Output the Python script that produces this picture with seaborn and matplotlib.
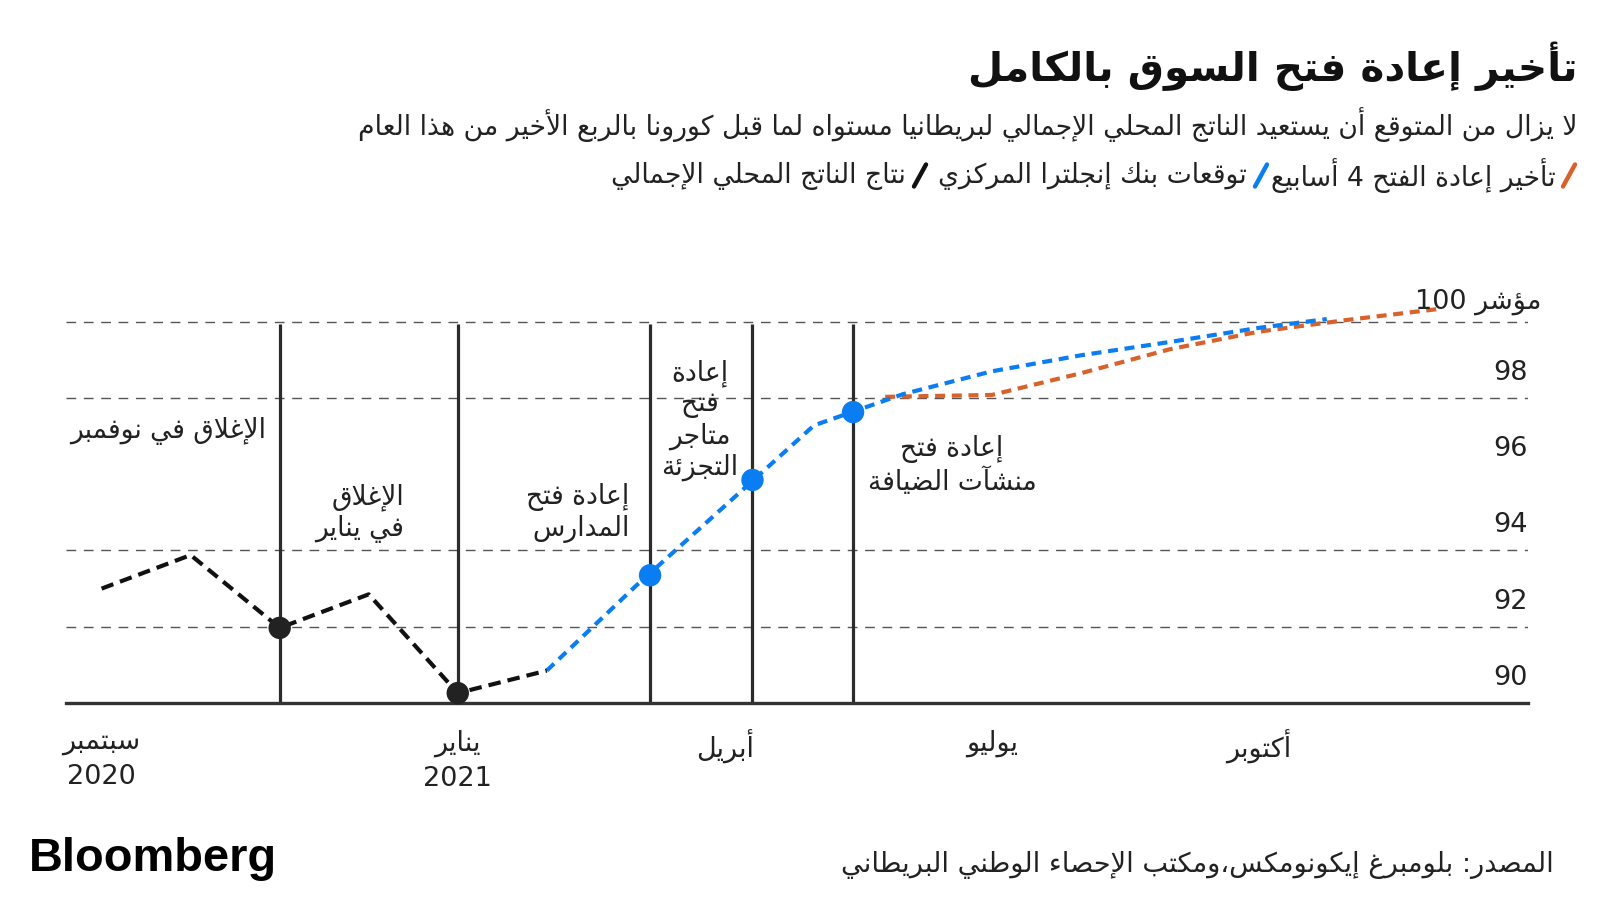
import re
import numpy as np
import pandas as pd
import matplotlib
matplotlib.use("Agg")
import matplotlib.pyplot as plt
from matplotlib.lines import Line2D
import seaborn as sns

# ---------------- data ----------------
months_gdp = [0, 1, 2, 3, 4, 5]
gdp_actual = [93.0, 93.88, 91.97, 92.85, 90.26, 90.85]

months_boe = [5, 6, 7, 8, 9, 10, 11, 12, 13, 13.76]
boe_forecast = [90.85, 93.07, 95.17, 97.28, 98.10, 98.70, 99.12, 99.47, 99.84, 100.07]

months_delay = [8.8, 10, 11, 12, 13, 14, 15]
delay_forecast = [98.03, 98.08, 98.65, 99.28, 99.74, 100.05, 100.33]

event_months = [2.0, 4.0, 6.16, 7.31, 8.44]
gdp_dot_months = [2.0, 4.0]
gdp_dot_values = [91.97, 90.26]
boe_dot_months = [6.16, 7.31, 8.44]
boe_dot_values = [93.35, 95.85, 97.63]

x_tick_pos = [0, 4, 7, 10, 13]
x_tick_labels = ["سبتمبر\n2020", "يناير\n2021", "أبريل", "يوليو", "أكتوبر"]
y_grid = [92, 94, 98, 100]
y_labels = [90, 92, 94, 96, 98]
y_top_label = "مؤشر 100"

title = "تأخير إعادة فتح السوق بالكامل"
subtitle = "لا يزال من المتوقع أن يستعيد الناتج المحلي الإجمالي لبريطانيا مستواه لما قبل كورونا بالربع الأخير من هذا العام"
legend_labels = ["تأخير إعادة الفتح 4 أسابيع", "توقعات بنك إنجلترا المركزي", "نتاج الناتج المحلي الإجمالي"]
source = "المصدر: بلومبرغ إيكونومكس،ومكتب الإحصاء الوطني البريطاني"
events = ["الإغلاق في نوفمبر", "الإغلاق\nفي يناير", "إعادة فتح\nالمدارس",
          "إعادة\nفتح\nمتاجر\nالتجزئة", "إعادة فتح\nمنشآت الضيافة"]

BLACK = "#111111"
BLUE = "#0B7DF2"
ORANGE = "#D8622C"
VLINE = "#2b2b2b"
GRID = "#555555"

# ---------------- minimal Arabic shaping (presentation forms) ----------------
_DUAL = {'ئ': 0xFE89, 'ب': 0xFE8F, 'ت': 0xFE95, 'ث': 0xFE99, 'ج': 0xFE9D, 'ح': 0xFEA1,
         'خ': 0xFEA5, 'س': 0xFEB1, 'ش': 0xFEB5, 'ص': 0xFEB9, 'ض': 0xFEBD, 'ط': 0xFEC1,
         'ظ': 0xFEC5, 'ع': 0xFEC9, 'غ': 0xFECD, 'ف': 0xFED1, 'ق': 0xFED5, 'ك': 0xFED9,
         'ل': 0xFEDD, 'م': 0xFEE1, 'ن': 0xFEE5, 'ه': 0xFEE9, 'ي': 0xFEF1}
_RIGHT = {'آ': 0xFE81, 'أ': 0xFE83, 'ؤ': 0xFE85, 'إ': 0xFE87, 'ا': 0xFE8D, 'ة': 0xFE93,
          'د': 0xFEA9, 'ذ': 0xFEAB, 'ر': 0xFEAD, 'ز': 0xFEAF, 'و': 0xFEED, 'ى': 0xFEEF}
_NONE = {'ء': 0xFE80}
_LAMALEF = {'آ': 0xFEF5, 'أ': 0xFEF7, 'إ': 0xFEF9, 'ا': 0xFEFB}


def _shape(s):
    items = []
    i = 0
    while i < len(s):
        c = s[i]
        if c == 'ل' and i + 1 < len(s) and s[i + 1] in _LAMALEF:
            items.append(('LA', s[i + 1]))
            i += 2
        else:
            items.append(('C', c))
            i += 1

    def kind(it):
        t, c = it
        if t == 'LA':
            return 'R'
        if c in _DUAL:
            return 'D'
        if c in _RIGHT:
            return 'R'
        if c in _NONE:
            return 'N'
        return 'X'

    kinds = [kind(it) for it in items]
    out = []
    for j, (t, c) in enumerate(items):
        k = kinds[j]
        pj = j > 0 and kinds[j - 1] == 'D'
        nj = k == 'D' and j + 1 < len(items) and kinds[j + 1] in ('D', 'R')
        if t == 'LA':
            out.append(chr(_LAMALEF[c] + (1 if pj else 0)))
        elif k == 'D':
            off = 3 if (pj and nj) else 1 if pj else 2 if nj else 0
            out.append(chr(_DUAL[c] + off))
        elif k == 'R':
            out.append(chr(_RIGHT[c] + (1 if pj else 0)))
        elif k == 'N':
            out.append(chr(_NONE[c]))
        else:
            out.append(c)
    return ''.join(out)


def _vis_line(line):
    toks = re.findall(r'[0-9A-Za-z]+|[^0-9A-Za-z]+', line)
    res = []
    for t in reversed(toks):
        res.append(t if re.match(r'[0-9A-Za-z]', t) else t[::-1])
    return ''.join(res)


def ar(s):
    return '\n'.join(_vis_line(_shape(l)) for l in s.split('\n'))


# ---------------- figure ----------------
sns.set_theme(style="white")
plt.rcParams['font.family'] = ['DejaVu Sans']
plt.rcParams['text.color'] = '#1a1a1a'

fig = plt.figure(figsize=(16, 9), dpi=100)
fig.patch.set_facecolor("white")
ax = fig.add_axes([66 / 1600, 197 / 900, 1462 / 1600, (703 - 283.6) / 900])
ax.set_facecolor("white")
ax.set_xlim(-0.40, 16.02)
ax.set_ylim(90, 101)

# gridlines (the 96 line is absent in the reference)
for g in y_grid:
    ax.axhline(g, color=GRID, lw=1.0, linestyle=(0, (7, 5.5)), zorder=1)

# event verticals
ax.vlines(event_months, 90, 99.94, color=VLINE, lw=2.3, zorder=2)

df_gdp = pd.DataFrame({"month": months_gdp, "value": gdp_actual})
df_boe = pd.DataFrame({"month": months_boe, "value": boe_forecast})
df_del = pd.DataFrame({"month": months_delay, "value": delay_forecast})

sns.lineplot(data=df_del, x="month", y="value", ax=ax, color=ORANGE, lw=3.0,
             linestyle=(0, (2.4, 1.6)), zorder=3)
sns.lineplot(data=df_boe, x="month", y="value", ax=ax, color=BLUE, lw=3.0,
             linestyle=(0, (2.4, 1.6)), zorder=4)
sns.lineplot(data=df_gdp, x="month", y="value", ax=ax, color=BLACK, lw=3.0,
             linestyle=(0, (3.0, 1.7)), zorder=4)

sns.scatterplot(x=gdp_dot_months, y=gdp_dot_values, ax=ax, color="#222222", s=260,
                edgecolor="none", zorder=6, clip_on=False)
sns.scatterplot(x=boe_dot_months, y=boe_dot_values, ax=ax, color=BLUE, s=260,
                edgecolor="none", zorder=6, clip_on=False)

# axes styling
for side in ["top", "right", "left"]:
    ax.spines[side].set_visible(False)
ax.spines["bottom"].set_color("#333333")
ax.spines["bottom"].set_linewidth(2.4)
ax.spines["bottom"].set_zorder(5)
ax.set_xlabel("")
ax.set_ylabel("")
ax.set_yticks([])
ax.set_xticks(x_tick_pos, labels=[ar(l) for l in x_tick_labels])
ax.tick_params(axis="x", length=0, pad=19, labelsize=19.5, labelcolor="#222222")
for lab in ax.get_xticklabels():
    lab.set_linespacing(1.45)

# y labels above their gridline
for v in y_labels:
    ax.annotate(str(v), xy=(1.0, v), xycoords=("axes fraction", "data"),
                xytext=(0, 18), textcoords="offset points", ha="right", va="center",
                fontsize=19.5, color="#222222")
ax.annotate(ar(y_top_label), xy=(1.0, 100), xycoords=("axes fraction", "data"),
            xytext=(9.5, 14.5), textcoords="offset points", ha="right", va="center",
            fontsize=19.5, color="#222222")

renderer = fig.canvas.get_renderer()


def fit(t, width_px):
    w = t.get_window_extent(renderer).width
    t.set_fontsize(t.get_fontsize() * width_px / w)
    return t.get_fontsize()


# event annotations (x in months, y in index units)
ev_pos = [(1.85, 97.13, "right"), (3.40, 94.98, "right"), (5.93, 94.98, "right"),
          (6.72, 97.41, "center"), (9.55, 96.22, "center")]
ev_texts = []
for (x, y, ha), s in zip(ev_pos, events):
    t = ax.text(x, y, ar(s), ha=ha, va="center", multialignment=ha,
                fontsize=17, color="#222222", linespacing=1.2, zorder=7)
    ev_texts.append(t)
fs_ev = fit(ev_texts[0], 196)
for t in ev_texts[1:]:
    t.set_fontsize(fs_ev)

# title / subtitle / legend / source
t_title = fig.text(1577 / 1600, 1 - 66 / 900, ar(title), ha="right", va="center",
                   fontsize=30, fontweight="bold", color="#111111")
fit(t_title, 608)
t_sub = fig.text(1577 / 1600, 1 - 124.5 / 900, ar(subtitle), ha="right", va="center",
                 fontsize=17, color="#222222")
fs_sub = fit(t_sub, 1220)

leg_colors = [ORANGE, BLUE, BLACK]
leg_text_right = [1556, 1247, 906]
leg_slash_x = [1569, 1261, 920]
leg_y = 175.5
for lab, col, xr, sx in zip(legend_labels, leg_colors, leg_text_right, leg_slash_x):
    fig.text(xr / 1600, 1 - leg_y / 900, ar(lab), ha="right", va="center",
             fontsize=fs_sub, color="#222222")
    fig.add_artist(Line2D([(sx - 6) / 1600, (sx + 6) / 1600],
                          [1 - (leg_y + 11) / 900, 1 - (leg_y - 11) / 900],
                          transform=fig.transFigure, color=col, lw=3.2,
                          solid_capstyle="round"))

t_src = fig.text(1554 / 1600, 1 - 865 / 900, ar(source), ha="right", va="center",
                 fontsize=17, color="#222222")
fit(t_src, 711)

t_logo = fig.text(29 / 1600, 1 - 859 / 900, "Bloomberg", ha="left", va="center",
                  fontsize=32, fontweight="bold", family="Liberation Sans", color="#000000")
fit(t_logo, 249)

fig.savefig("out.png", dpi=100, facecolor="white")
